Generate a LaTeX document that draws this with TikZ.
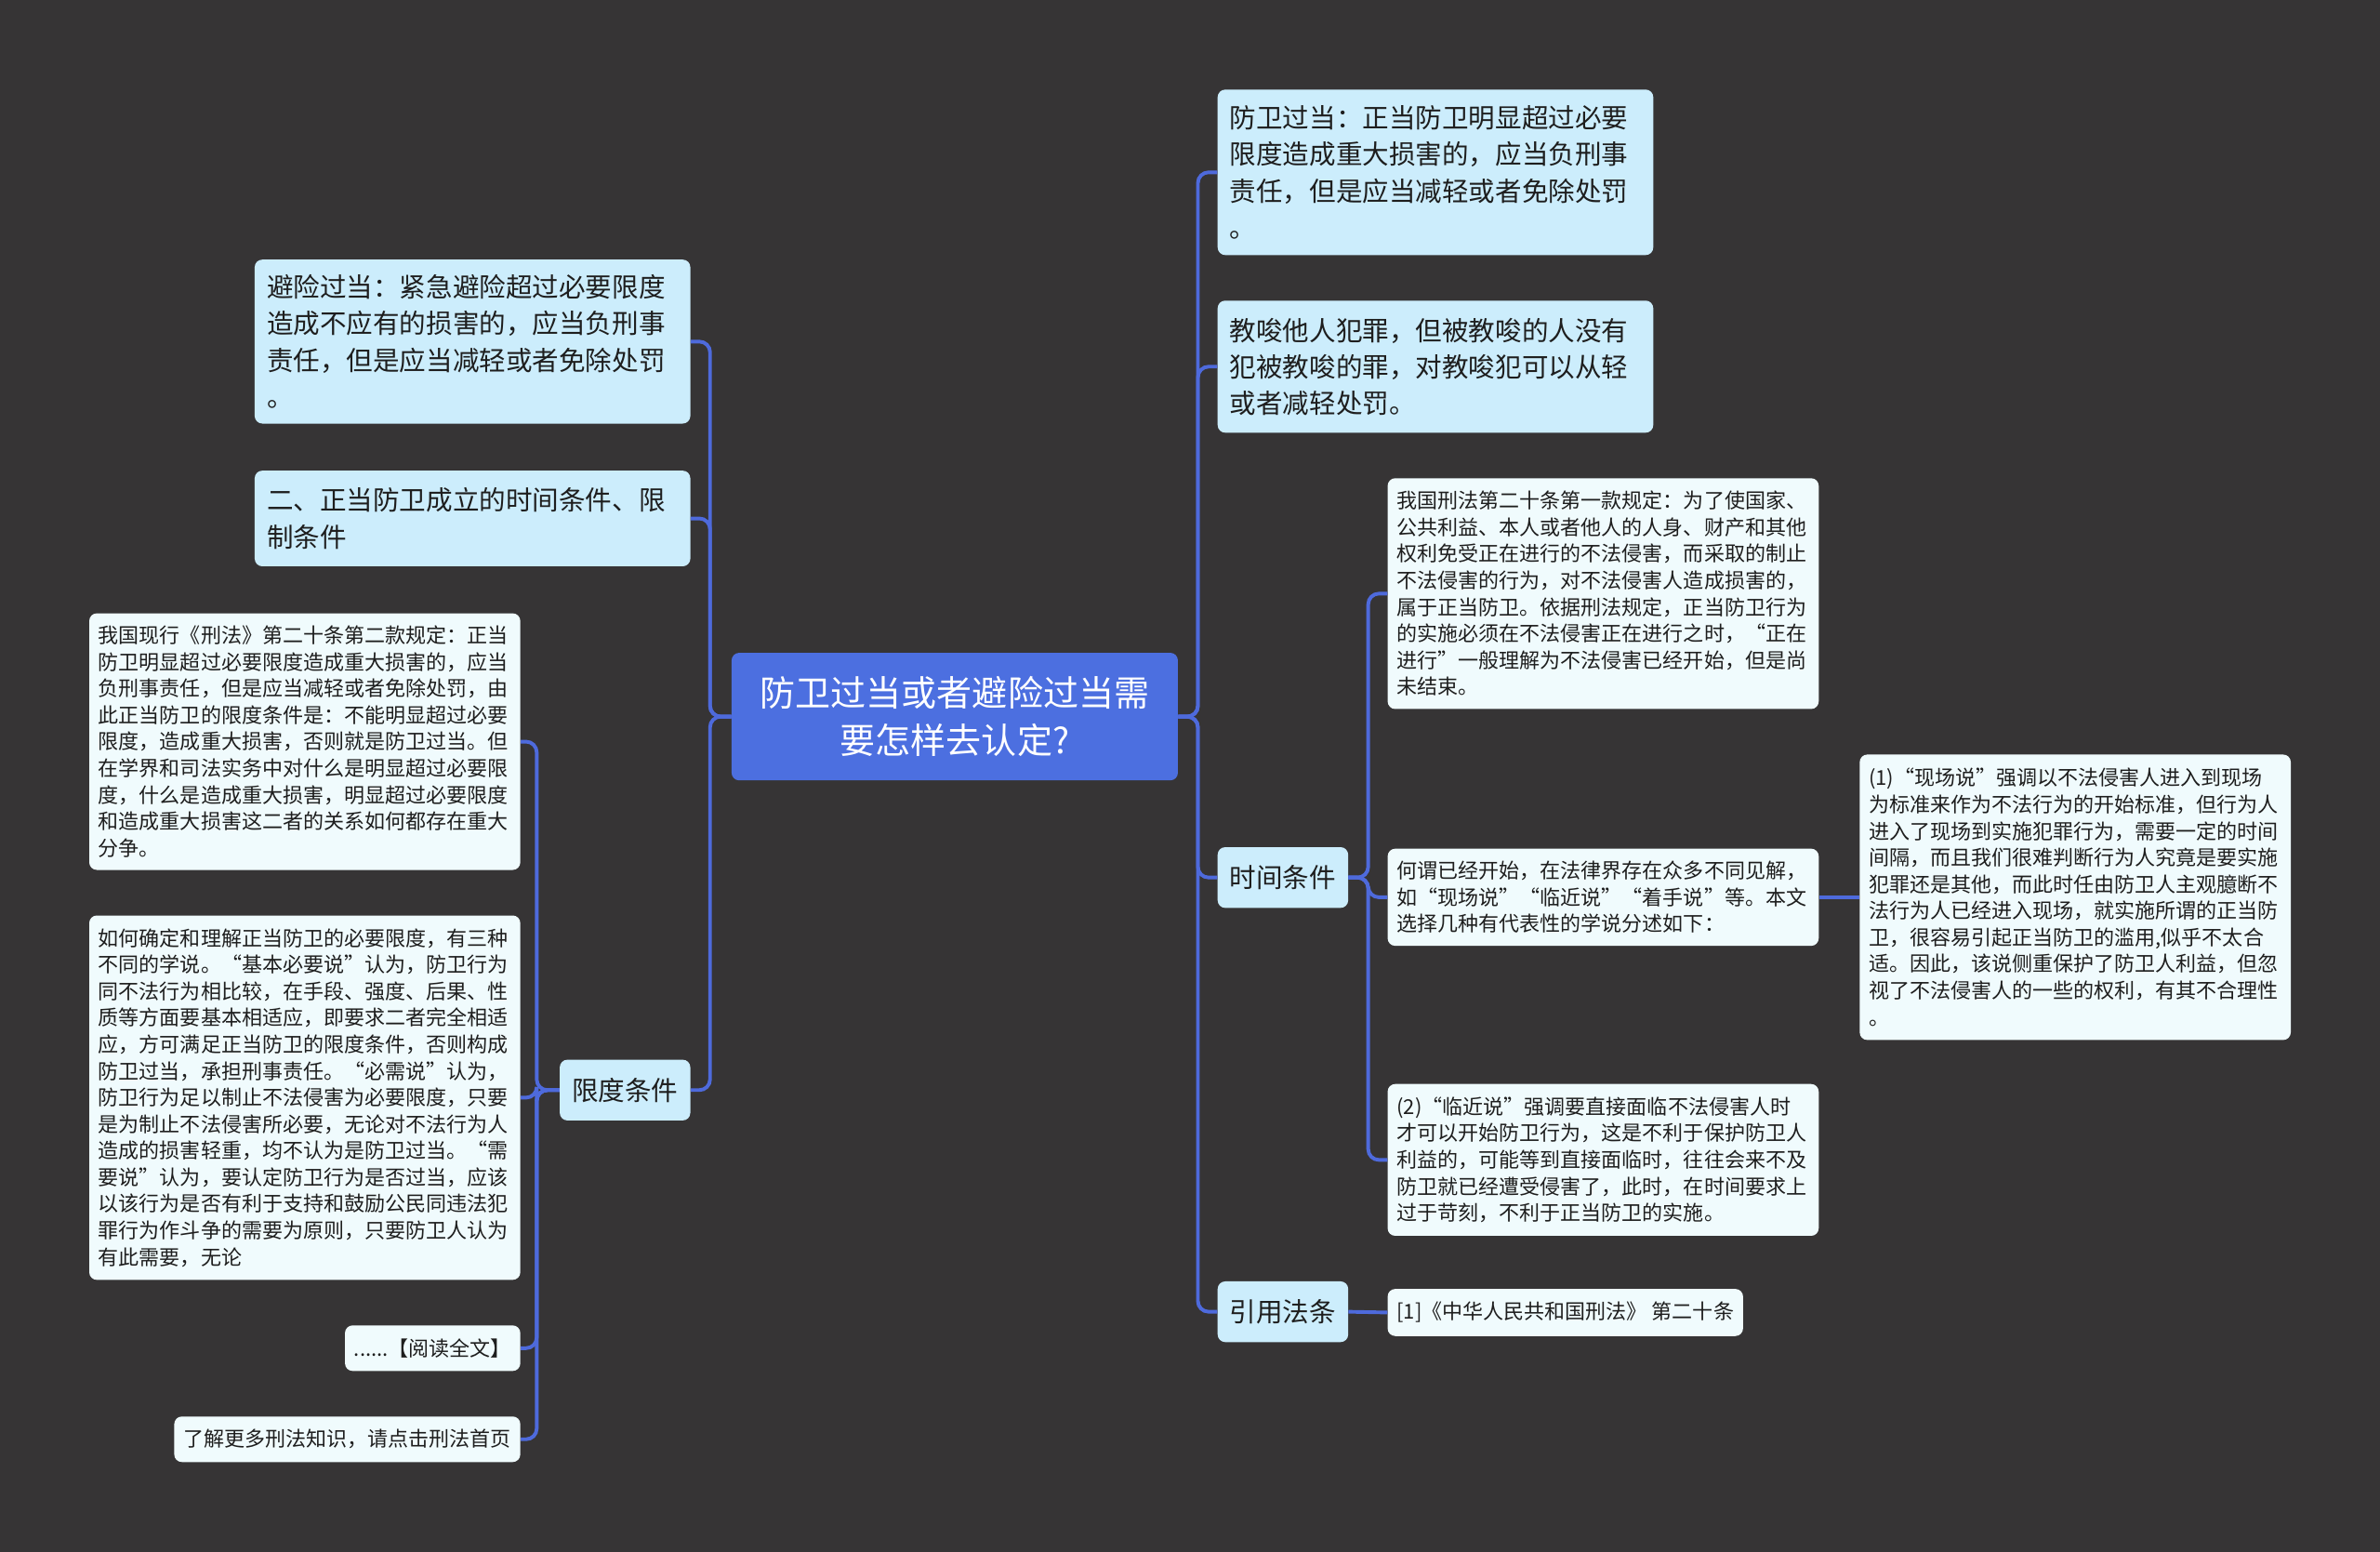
\documentclass[tikz,border=0pt]{standalone}
\usepackage{fontspec}
\setmainfont{Noto Sans CJK SC}
\usepackage{xcolor}
\usepackage{tikz}

\definecolor{canvas}{RGB}{54,52,53}
\definecolor{rootblue}{RGB}{76,111,224}
\definecolor{wireblue}{RGB}{78,106,220}
\definecolor{topicbg}{RGB}{204,237,252}
\definecolor{leafbg}{RGB}{240,251,253}
\definecolor{ink}{RGB}{30,30,30}

\begin{document}
\begin{tikzpicture}[
  x=1pt, y=-1pt,
  root/.style={fill=rootblue, text=white, rounded corners=5pt, align=center,
               minimum width=294pt, minimum height=84pt, inner sep=0pt,
               font=\fontsize{23.3}{31}\selectfont},
  topic/.style={fill=topicbg, text=ink, rounded corners=5pt, align=left,
                inner xsep=8pt, inner ysep=0pt,
                font=\fontsize{17.5}{24}\selectfont},
  leaf/.style={fill=leafbg, text=ink, rounded corners=5pt, align=left,
               inner xsep=6pt, inner ysep=0pt,
               font=\fontsize{13.5}{17.5}\selectfont},
  wire/.style={draw=wireblue, line width=2.4pt, rounded corners=7pt},
]

%% ── Canvas ───────────────────────────────────────────────────────────────────
\fill[canvas] (0,0) rectangle (1568,1022);
\useasboundingbox (0,0) rectangle (1568,1022);

%% ── Root ─────────────────────────────────────────────────────────────────────
\node[root] (root) at (629,472) {防卫过当或者避险过当需\\要怎样去认定?};

%% ── Right branch ─────────────────────────────────────────────────────────────
\node[topic, anchor=west, text width=271pt, minimum height=109pt] (excess) at (802,113.5)
  {防卫过当：正当防卫明显超过必要\\限度造成重大损害的，应当负刑事\\责任，但是应当减轻或者免除处罚\\。};
\node[topic, anchor=west, text width=271pt, minimum height=87pt] (abet) at (802,241.5)
  {教唆他人犯罪，但被教唆的人没有\\犯被教唆的罪，对教唆犯可以从轻\\或者减轻处罚。};
\node[topic, anchor=west, minimum height=40pt] (timing) at (802,578) {时间条件};
\node[topic, anchor=west, minimum height=40pt] (cite) at (802,864) {引用法条};

\node[leaf, anchor=west, text width=272pt, minimum height=152pt] (art20) at (914,391)
  {我国刑法第二十条第一款规定：为了使国家、\\公共利益、本人或者他人的人身、财产和其他\\权利免受正在进行的不法侵害，而采取的制止\\不法侵害的行为，对不法侵害人造成损害的，\\属于正当防卫。依据刑法规定，正当防卫行为\\的实施必须在不法侵害正在进行之时，“正在\\进行”一般理解为不法侵害已经开始，但是尚\\未结束。};
\node[leaf, anchor=west, text width=272pt, minimum height=64pt] (begun) at (914,591)
  {何谓已经开始，在法律界存在众多不同见解，\\如“现场说”“临近说”“着手说”等。本文\\选择几种有代表性的学说分述如下：};
\node[leaf, anchor=west, text width=272pt, minimum height=100pt] (near) at (914,764)
  {(2)“临近说”强调要直接面临不法侵害人时\\才可以开始防卫行为，这是不利于保护防卫人\\利益的，可能等到直接面临时，往往会来不及\\防卫就已经遭受侵害了，此时，在时间要求上\\过于苛刻，不利于正当防卫的实施。};
\node[leaf, anchor=west, text width=272pt, minimum height=188pt] (scene) at (1225,591)
  {(1)“现场说”强调以不法侵害人进入到现场\\为标准来作为不法行为的开始标准，但行为人\\进入了现场到实施犯罪行为，需要一定的时间\\间隔，而且我们很难判断行为人究竟是要实施\\犯罪还是其他，而此时任由防卫人主观臆断不\\法行为人已经进入现场，就实施所谓的正当防\\卫，很容易引起正当防卫的滥用,似乎不太合\\适。因此，该说侧重保护了防卫人利益，但忽\\视了不法侵害人的一些的权利，有其不合理性\\。};
\node[leaf, anchor=west, minimum height=31pt] (law) at (914,864.5)
  {[1]《中华人民共和国刑法》 第二十条};

%% ── Left branch ──────────────────────────────────────────────────────────────
\node[topic, anchor=east, text width=271pt, minimum height=108pt] (avoid) at (455,225)
  {避险过当：紧急避险超过必要限度\\造成不应有的损害的，应当负刑事\\责任，但是应当减轻或者免除处罚\\。};
\node[topic, anchor=east, text width=271pt, minimum height=63pt] (cond) at (455,341.5)
  {二、正当防卫成立的时间条件、限\\制条件};
\node[topic, anchor=east, minimum height=40pt] (limit) at (455,718) {限度条件};

\node[leaf, anchor=east, text width=272pt, minimum height=169pt] (para2) at (343,488.5)
  {我国现行《刑法》第二十条第二款规定：正当\\防卫明显超过必要限度造成重大损害的，应当\\负刑事责任，但是应当减轻或者免除处罚，由\\此正当防卫的限度条件是：不能明显超过必要\\限度，造成重大损害，否则就是防卫过当。但\\在学界和司法实务中对什么是明显超过必要限\\度，什么是造成重大损害，明显超过必要限度\\和造成重大损害这二者的关系如何都存在重大\\分争。};
\node[leaf, anchor=east, text width=272pt, minimum height=240pt] (theory) at (343,723)
  {如何确定和理解正当防卫的必要限度，有三种\\不同的学说。“基本必要说”认为，防卫行为\\同不法行为相比较，在手段、强度、后果、性\\质等方面要基本相适应，即要求二者完全相适\\应，方可满足正当防卫的限度条件，否则构成\\防卫过当，承担刑事责任。“必需说”认为，\\防卫行为足以制止不法侵害为必要限度，只要\\是为制止不法侵害所必要，无论对不法行为人\\造成的损害轻重，均不认为是防卫过当。“需\\要说”认为，要认定防卫行为是否过当，应该\\以该行为是否有利于支持和鼓励公民同违法犯\\罪行为作斗争的需要为原则，只要防卫人认为\\有此需要，无论};
\node[leaf, anchor=east, minimum height=30pt] (more) at (343,888) {......【阅读全文】};
\node[leaf, anchor=east, minimum height=30pt] (home) at (343,948) {了解更多刑法知识，请点击刑法首页};

%% ── Connectors ───────────────────────────────────────────────────────────────
\draw[wire] (root.east) -- ++(13,0) |- (excess.west);
\draw[wire] (root.east) -- ++(13,0) |- (abet.west);
\draw[wire] (root.east) -- ++(13,0) |- (timing.west);
\draw[wire] (root.east) -- ++(13,0) |- (cite.west);

\draw[wire] (timing.east) -- ++(13,0) |- (art20.west);
\draw[wire] (timing.east) -- ++(13,0) |- (begun.west);
\draw[wire] (timing.east) -- ++(13,0) |- (near.west);
\draw[wire] (begun.east) -- (scene.west);
\draw[wire] (cite.east) -- (law.west);

\draw[wire] (root.west) -- ++(-14,0) |- (avoid.east);
\draw[wire] (root.west) -- ++(-14,0) |- (cond.east);
\draw[wire] (root.west) -- ++(-14,0) |- (limit.east);

\draw[wire] (limit.west) -- ++(-15,0) |- (para2.east);
\draw[wire] (limit.west) -- ++(-15,0) |- (theory.east);
\draw[wire] (limit.west) -- ++(-15,0) |- (more.east);
\draw[wire] (limit.west) -- ++(-15,0) |- (home.east);

\end{tikzpicture}
\end{document}
